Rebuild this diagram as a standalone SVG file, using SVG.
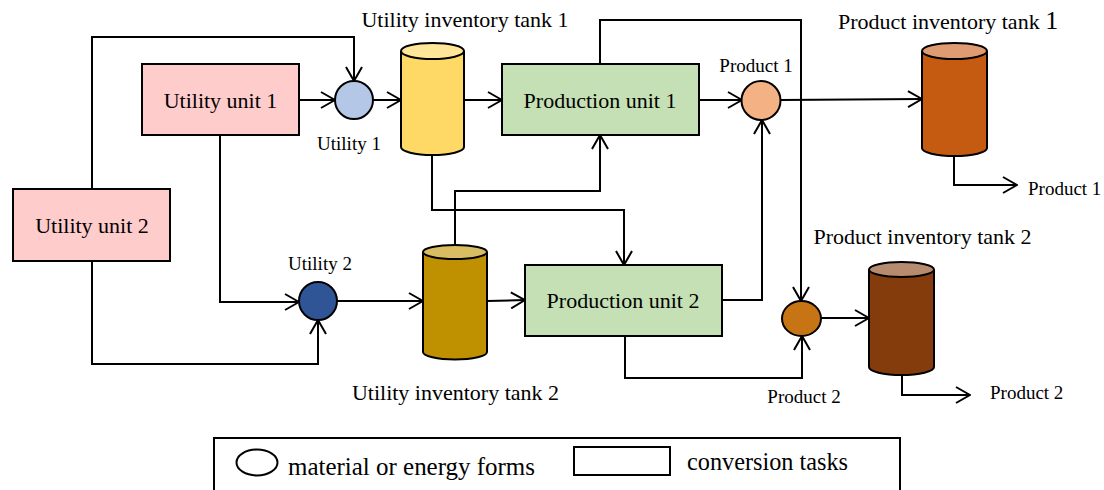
<svg xmlns="http://www.w3.org/2000/svg" width="1104" height="490" viewBox="0 0 1104 490">
<style>
text{font-family:"Liberation Serif","Times New Roman",serif;fill:#000}
.big{font-size:22px}
.sm{font-size:19px}
.leg{font-size:24.5px}
.box{stroke:#000;stroke-width:2}
.ln{fill:none;stroke:#000;stroke-width:2;marker-end:url(#ah)}
.plain{fill:none;stroke:#000;stroke-width:2}
</style>
<defs>
<marker id="ah" viewBox="0 0 16 18" refX="15" refY="9" markerWidth="16" markerHeight="18" markerUnits="userSpaceOnUse" orient="auto">
<path d="M1,1 L15,9 L1,17" fill="none" stroke="#000" stroke-width="2"/>
</marker>
</defs>
<rect width="1104" height="490" fill="#fff"/>
<g id="connectors">
<path class="ln" d="M92,189 V37 H354 V81"/>
<path class="ln" d="M299,100 H335"/>
<path class="ln" d="M220,135 V302 H299"/>
<path class="ln" d="M92,261 V364 H318 V320"/>
<path class="ln" d="M373,100 H401"/>
<path class="ln" d="M464,100 H502"/>
<path class="ln" d="M600,64 V20 H801 V301"/>
<path class="ln" d="M432,155 V210 H624 V265"/>
<path class="ln" d="M455,246 V191 H600 V135"/>
<path class="ln" d="M337,301 H423"/>
<path class="ln" d="M487,301 L525,300"/>
<path class="ln" d="M699,100 H742"/>
<path class="ln" d="M722,300 H762 V120"/>
<path class="ln" d="M781,100 L922,99"/>
<path class="ln" d="M954,156 V185 H1017"/>
<path class="ln" d="M625,336 V378 H802 V336"/>
<path class="ln" d="M821,318 H869"/>
<path class="ln" d="M902,375 V395 H970"/>
</g>
<g id="utility-unit-1">
<rect class="box" x="142" y="64" width="157" height="71" fill="#FFCCCC"/>
<text class="big" x="220.5" y="108" text-anchor="middle">Utility unit 1</text>
</g>
<g id="utility-unit-2">
<rect class="box" x="13" y="189" width="157" height="72" fill="#FFCCCC"/>
<text class="big" x="92" y="233" text-anchor="middle">Utility unit 2</text>
</g>
<g id="utility-1">
<circle class="box" cx="354" cy="100" r="19" fill="#B4C7E7"/>
<text class="sm" x="349" y="150" text-anchor="middle">Utility 1</text>
</g>
<g id="utility-2">
<circle class="box" cx="318" cy="301" r="19" fill="#2F5597"/>
<text class="sm" x="320" y="270" text-anchor="middle">Utility 2</text>
</g>
<g id="utility-tank-1">
<path class="box" d="M401,51 V147 A31.5,8 0 0 0 464,147 V51" fill="#FFD966"/>
<ellipse class="box" cx="432.5" cy="51" rx="31.5" ry="8" fill="#FFE699"/>
<text class="big" x="465" y="27" text-anchor="middle">Utility inventory tank 1</text>
</g>
<g id="utility-tank-2">
<path class="box" d="M423,252 V352 A32,7.5 0 0 0 487,352 V252" fill="#BF9000"/>
<ellipse class="box" cx="455" cy="252" rx="32" ry="7" fill="#D9BD62"/>
<text class="big" x="455.5" y="400" text-anchor="middle">Utility inventory tank 2</text>
</g>
<g id="production-unit-1">
<rect class="box" x="502" y="64" width="197" height="71" fill="#C5E0B4"/>
<text class="big" x="600" y="108" text-anchor="middle">Production unit 1</text>
</g>
<g id="production-unit-2">
<rect class="box" x="525" y="265" width="197" height="71" fill="#C5E0B4"/>
<text class="big" x="623" y="308" text-anchor="middle">Production unit 2</text>
</g>
<g id="product-1">
<circle class="box" cx="761" cy="100.5" r="19.5" fill="#F4B183"/>
<text class="sm" x="756" y="72" text-anchor="middle">Product 1</text>
</g>
<g id="product-2">
<ellipse class="box" cx="801.5" cy="318.5" rx="19.5" ry="17.5" fill="#C77414"/>
<text class="sm" x="804" y="403" text-anchor="middle">Product 2</text>
</g>
<g id="product-tank-1">
<path class="box" d="M922,51 V148 A32.5,8 0 0 0 987,148 V51" fill="#C55A11"/>
<ellipse class="box" cx="954.5" cy="51" rx="32.5" ry="8" fill="#DF9C72"/>
<text class="big" x="838" y="29">Product inventory tank <tspan font-size="26">1</tspan></text>
</g>
<g id="product-tank-2">
<path class="box" d="M869,269.5 V367 A32.5,8 0 0 0 934,367 V269.5" fill="#843C0C"/>
<ellipse class="box" cx="901.5" cy="269.5" rx="32.5" ry="7.5" fill="#B78B70"/>
<text class="big" x="922.5" y="244" text-anchor="middle">Product inventory tank 2</text>
</g>
<g id="out-product-1">
<text class="sm" x="1028" y="195">Product 1</text>
</g>
<g id="out-product-2">
<text class="sm" x="990" y="399">Product 2</text>
</g>
<g id="legend">
<rect class="plain" x="214" y="438" width="686" height="60"/>
<ellipse class="plain" cx="257" cy="462.5" rx="20.5" ry="13"/>
<text class="leg" x="288" y="475" textLength="247" lengthAdjust="spacingAndGlyphs">material or energy forms</text>
<rect class="plain" x="574" y="447" width="96" height="28"/>
<text class="leg" x="687" y="470" textLength="161" lengthAdjust="spacingAndGlyphs">conversion tasks</text>
</g>
</svg>
